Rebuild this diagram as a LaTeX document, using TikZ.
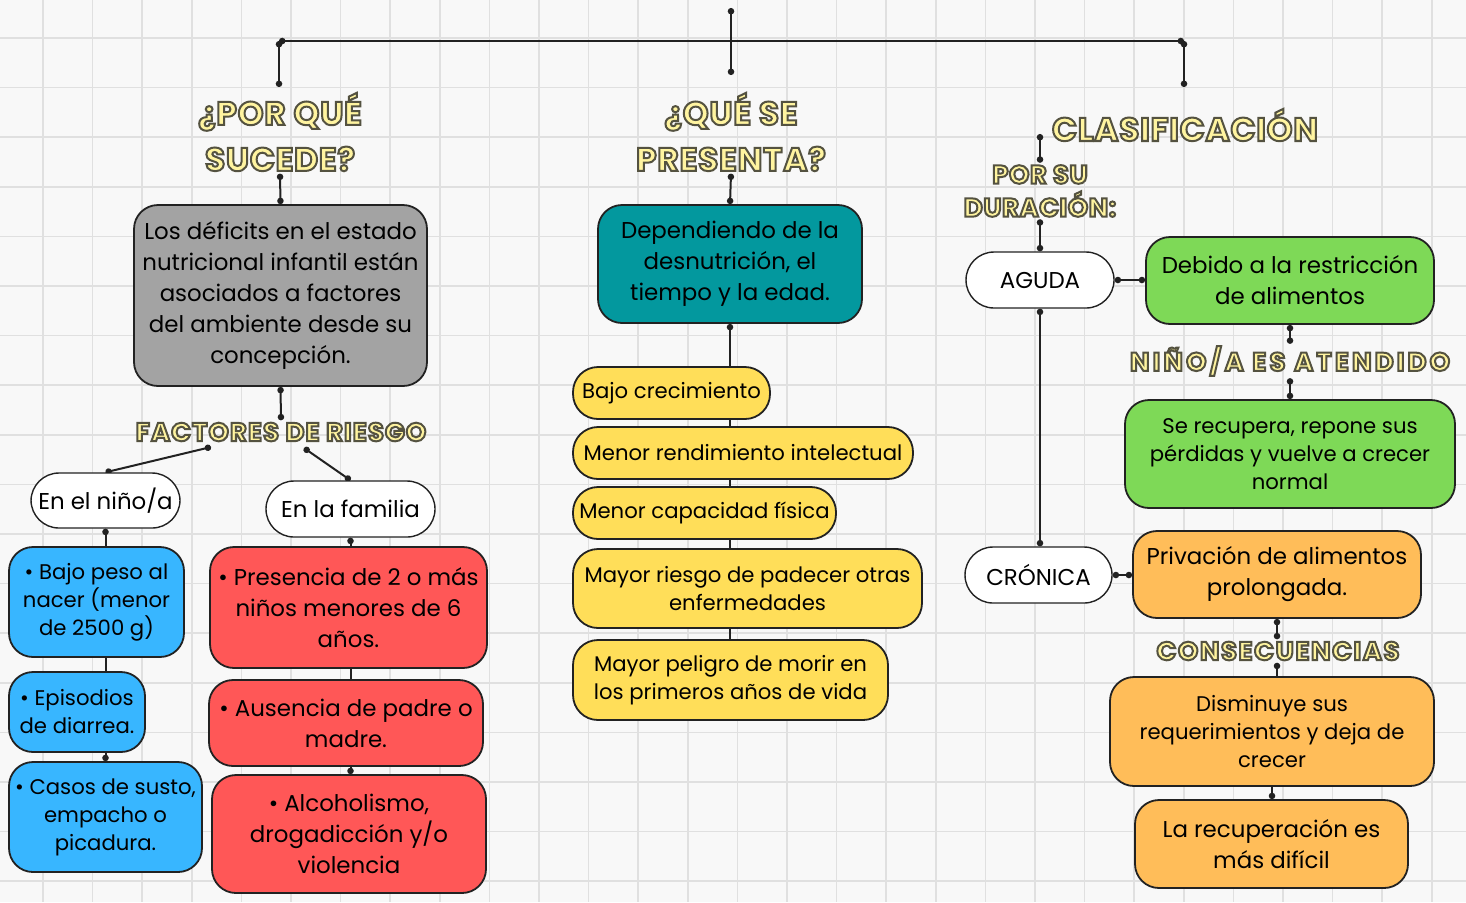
\documentclass[tikz,border=0pt]{standalone}
\usepackage{fontspec}
\setmainfont{Poppins}
\usetikzlibrary{arrows.meta}
\definecolor{boxgray}{HTML}{A3A3A3}
\definecolor{boxteal}{HTML}{03989E}
\definecolor{boxblue}{HTML}{38B6FF}
\definecolor{boxred}{HTML}{FF5757}
\definecolor{boxgreen}{HTML}{7ED957}
\definecolor{boxorange}{HTML}{FFBD59}
\definecolor{boxyellow}{HTML}{FFDE59}
\definecolor{titlefill}{HTML}{FFF4A0}
\definecolor{gridline}{HTML}{E0E0E0}
\definecolor{paper}{HTML}{F8F8F8}
\definecolor{edge}{HTML}{222222}
\pgfdeclarelayer{paperlayer}
\pgfdeclarelayer{back}
\pgfsetlayers{paperlayer,back,main}
% yellow letters with a dark outline (fill + stroke)
\newcommand{\titulo}[1]{{\color{titlefill}%
  \special{pdf:literal direct 0.33 0.32 0.25 RG 2 Tr 1.0 w}#1%
  \special{pdf:literal direct 0 Tr}}}
\newcommand{\bigtxt}{\fontsize{11.45}{15.5}\selectfont}
\newcommand{\smalltxt}{\fontsize{10.6}{14}\selectfont}

\begin{document}
\begin{tikzpicture}[x=0.5pt, y=-0.5pt,
  box/.style={draw=edge, line width=0.9pt, rounded corners=12pt, align=center,
    inner sep=0pt, text=black, font=\bigtxt},
  pill/.style={box, fill=white, line width=0.7pt, rounded corners=14pt},
  yellowbox/.style={box, fill=boxyellow, rounded corners=12.5pt, font=\smalltxt},
  head/.style={align=center, inner sep=1pt,
    font=\bfseries\fontsize{16.5}{23}\selectfont\addfontfeature{LetterSpace=2}},
  subhead/.style={align=center, inner sep=1pt,
    font=\bfseries\fontsize{13}{16.5}\selectfont\addfontfeature{LetterSpace=#1}},
  subhead/.default=6,
  link/.style={draw=edge, line width=1pt, {Circle[length=3.2pt]}-{Circle[length=3.2pt]}},
  linkA/.style={draw=edge, line width=1pt, {Circle[length=3.2pt]}-},
  linkB/.style={draw=edge, line width=1pt, -{Circle[length=3.2pt]}},
  plain/.style={draw=edge, line width=1pt}]
  \useasboundingbox (0,0) rectangle (1466,902);
  \begin{pgfonlayer}{paperlayer}
  \fill[paper] (0,0) rectangle (1466,902);
  % grid
  \foreach \i in {0,...,28}
    \draw[gridline, line width=0.8pt] ({43+49.6*\i},0) -- ({43+49.6*\i},902);
  \foreach \j in {0,...,17}
    \draw[gridline, line width=0.8pt] (0,{38+49.6*\j}) -- (1466,{38+49.6*\j});
  \end{pgfonlayer}

  % headings
  \node[head] (porque) at (280,132) {\titulo{¿POR QUÉ}\\\titulo{SUCEDE?}};
  \node[head] (quese) at (731,132) {\titulo{¿QUÉ SE}\\\titulo{PRESENTA?}};
  \node[head] (clasif) at (1185,125) {\titulo{CLASIFICACIÓN}};
  \node[subhead=2] (porsu) at (1040,191) {\titulo{POR SU}\\\titulo{DURACIÓN:}};
  \node[subhead=4] (factores) at (281,432) {\titulo{FACTORES DE RIESGO}};
  \node[subhead=12] (atendido) at (1290,361) {\titulo{NIÑO/A ES ATENDIDO}};
  \node[subhead] (consec) at (1278,651) {\titulo{CONSECUENCIAS}};

  % left column
  \node[box, fill=boxgray, minimum width=146.5pt, minimum height=90.5pt] (gray) at (280.5,295.5)
    {Los déficits en el estado\\nutricional infantil están\\asociados a factores\\del ambiente desde su\\concepción.};
  \node[pill, minimum width=74.5pt, minimum height=27.5pt] (nino) at (105.5,500.5) {En el niño/a};
  \node[pill, minimum width=84.5pt, minimum height=28pt] (familia) at (350.5,509) {En la familia};
  \node[box, fill=boxblue, font=\smalltxt, minimum width=87.5pt, minimum height=55pt] (blue1) at (96.5,602)
    {• Bajo peso al\\nacer (menor\\de 2500 g)};
  \node[box, fill=boxblue, font=\smalltxt, minimum width=68pt, minimum height=40pt] (blue2) at (77,712)
    {• Episodios\\de diarrea.};
  \node[box, fill=boxblue, font=\smalltxt, minimum width=96.5pt, minimum height=55pt] (blue3) at (105.5,817)
    {• Casos de susto,\\empacho o\\picadura.};
  \node[box, fill=boxred, minimum width=138.5pt, minimum height=60.5pt] (red1) at (348.5,607.5)
    {• Presencia de 2 o más\\niños menores de 6\\años.};
  \node[box, fill=boxred, minimum width=137pt, minimum height=43pt] (red2) at (346,723)
    {• Ausencia de padre o\\madre.};
  \node[box, fill=boxred, minimum width=137pt, minimum height=59pt] (red3) at (349,834)
    {• Alcoholismo,\\drogadicción y/o\\violencia};

  % middle column
  \node[box, fill=boxteal, minimum width=132pt, minimum height=59pt] (teal) at (730,264)
    {Dependiendo de la\\desnutrición, el\\tiempo y la edad.};
  \node[yellowbox, minimum width=98.5pt, minimum height=26pt] (yel1) at (671.5,393) {Bajo crecimiento};
  \node[yellowbox, minimum width=170pt, minimum height=26pt] (yel2) at (743,453) {Menor rendimiento intelectual};
  \node[yellowbox, minimum width=131.5pt, minimum height=26pt] (yel3) at (704.5,513) {Menor capacidad física};
  \node[yellowbox, minimum width=174.5pt, minimum height=39.5pt] (yel4) at (747.5,588.5)
    {Mayor riesgo de padecer otras\\enfermedades};
  \node[yellowbox, minimum width=157.5pt, minimum height=40pt] (yel5) at (730.5,680)
    {Mayor peligro de morir en\\los primeros años de vida};

  % right column
  \node[pill, minimum width=74pt, minimum height=28pt] (aguda) at (1040,280) {AGUDA};
  \node[pill, minimum width=73.5pt, minimum height=28pt] (cronica) at (1038.5,575) {CRÓNICA};
  \node[box, fill=boxgreen, minimum width=144pt, minimum height=43.5pt] (green1) at (1290,280.5)
    {Debido a la restricción\\de alimentos};
  \node[box, fill=boxgreen, font=\smalltxt, minimum width=165pt, minimum height=54pt] (green2) at (1290,454)
    {Se recupera, repone sus\\pérdidas y vuelve a crecer\\normal};
  \node[box, fill=boxorange, minimum width=144pt, minimum height=43.5pt] (orange1) at (1277,574.5)
    {Privación de alimentos\\prolongada.};
  \node[box, fill=boxorange, font=\smalltxt, minimum width=162pt, minimum height=54.5pt] (orange2) at (1272,731.5)
    {Disminuye sus\\requerimientos y deja de\\crecer};
  \node[box, fill=boxorange, minimum width=136.5pt, minimum height=44pt] (orange3) at (1271.5,844)
    {La recuperación es\\más difícil};

  % free ends of the top bracket
  \coordinate (top) at (731,8);
  \coordinate (topmid) at (731,75);
  \coordinate (topL) at (279,41);
  \coordinate (topR) at (1184,41);
  \coordinate (dropL) at (279,87);
  \coordinate (dropR) at (1184,87);
  \coordinate (clasifend) at (1040,134);
  \coordinate (f1) at (211,447);
  \coordinate (f2) at (304,448);

  \begin{pgfonlayer}{back}
    \draw[link] (top) -- (topmid);
    \draw[link] (topL) -- (topR);
    \draw[link] (topL) -- (dropL);
    \draw[link] (topR) -- (dropR);
    \draw[link] (porque.south) -- (gray.north);
    \draw[link] (quese.south) -- (teal.north);
    \draw[link] (clasifend) -- (porsu.north);
    \draw[link] (porsu.south) -- (aguda.north);
    \draw[link] (gray.south) -- (factores.north);
    \draw[link] (f1) -- (nino.north);
    \draw[link] (f2) -- (familia.north);
    \draw[linkA] (nino.south) -- (nino.south |- blue1.north);
    \draw[plain] (blue1.south -| nino.south) -- (blue2.north -| nino.south);
    \draw[linkB] (blue2.south -| nino.south) -- (blue3.north -| nino.south);
    \draw[linkA] (familia.south) -- (familia.south |- red1.north);
    \draw[plain] (red1.south -| familia.south) -- (red2.north -| familia.south);
    \draw[linkB] (red2.south -| familia.south) -- (red3.north -| familia.south);
    \draw[linkA] (teal.south) -- (teal.south |- yel5.north);
    \draw[link] (aguda.east) -- (green1.west |- aguda.east);
    \draw[link] (green1.south) -- (atendido.north);
    \draw[link] (atendido.south) -- (green2.north);
    \draw[link] (aguda.south) -- (cronica.north -| aguda.south);
    \draw[link] (cronica.east) -- (orange1.west |- cronica.east);
    \draw[link] (orange1.south) -- (consec.north -| orange1.south);
    \draw[linkA] (consec.south -| orange1.south) -- (orange2.north -| orange1.south);
    \draw[linkB] (orange2.south) -- (orange3.north -| orange2.south);
  \end{pgfonlayer}
\end{tikzpicture}
\end{document}
